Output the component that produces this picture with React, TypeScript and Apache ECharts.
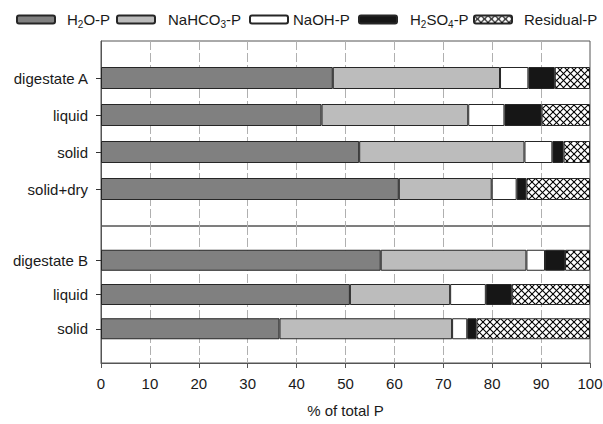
import React, { useEffect, useRef } from 'react';
import * as echarts from 'echarts';

// ---- data ----
const categoriesA = ['', 'digestate A', 'liquid', 'solid', 'solid+dry', ' '];
const categoriesB = ['', 'digestate B', 'liquid', 'solid', ' '];
const fractionNames = ['H2O-P', 'NaHCO3-P', 'NaOH-P', 'H2SO4-P', 'Residual-P'];

const h2oA = ['-', 47.4, 45.1, 52.8, 60.9, '-'];
const nahco3A = ['-', 34.2, 30.0, 33.8, 19.0, '-'];
const naohA = ['-', 5.8, 7.4, 5.7, 5.1, '-'];
const h2so4A = ['-', 5.4, 7.6, 2.3, 2.0, '-'];
const residualA = ['-', 7.2, 9.9, 5.4, 13.0, '-'];

const h2oB = ['-', 57.2, 50.9, 36.5, '-'];
const nahco3B = ['-', 29.8, 20.5, 35.3, '-'];
const naohB = ['-', 3.8, 7.3, 3.1, '-'];
const h2so4B = ['-', 4.1, 5.3, 1.9, '-'];
const residualB = ['-', 5.1, 16.0, 23.2, '-'];

const xTicks = [0, 100, 10]; // min, max, interval

const legendRich: Record<string, string> = {
  'H2O-P': '{n|H}{s|2}{n|O-P}',
  'NaHCO3-P': '{n|NaHCO}{s|3}{n|-P}',
  'NaOH-P': '{n|NaOH-P}',
  'H2SO4-P': '{n|H}{s|2}{n|SO}{s|4}{n|-P}',
  'Residual-P': '{n|Residual-P}',
};

const FONT = '"Liberation Sans", Arial, sans-serif';

function makeHatch() {
  const c = document.createElement('canvas');
  const s = 7;
  c.width = s;
  c.height = s;
  const ctx = c.getContext('2d')!;
  ctx.fillStyle = '#fff';
  ctx.fillRect(0, 0, s, s);
  ctx.strokeStyle = '#000';
  ctx.lineWidth = 1.1;
  for (const d of [-s, 0, s]) {
    ctx.beginPath();
    ctx.moveTo(d, 0);
    ctx.lineTo(d + s, s);
    ctx.stroke();
    ctx.beginPath();
    ctx.moveTo(d + s, 0);
    ctx.lineTo(d, s);
    ctx.stroke();
  }
  return c;
}

export default function App() {
  const ref = useRef<HTMLDivElement>(null);
  useEffect(() => {
    if (!ref.current) return;
    const chart = echarts.init(ref.current, null, { renderer: 'svg' });
    const hatch = makeHatch();
    const fills: any[] = [
      '#808080',
      '#bcbcbc',
      '#ffffff',
      '#161616',
      { image: hatch, repeat: 'repeat', imageWidth: 7, imageHeight: 7 },
    ];
    const dataA = [h2oA, nahco3A, naohA, h2so4A, residualA];
    const dataB = [h2oB, nahco3B, naohB, h2so4B, residualB];

    const series: any[] = [];
    fractionNames.forEach((name, i) => {
      const itemStyle = { color: fills[i], borderColor: '#262626', borderWidth: 1 };
      series.push({
        type: 'bar', name, xAxisIndex: 0, yAxisIndex: 0, stack: 'A',
        data: dataA[i], barWidth: 22, itemStyle,
      });
      series.push({
        type: 'bar', name, xAxisIndex: 1, yAxisIndex: 1, stack: 'B',
        data: dataB[i], barWidth: 21, itemStyle,
      });
    });

    const legendLefts = [16, 116, 249, 358, 473];
    const legendPads = [7, 8, 0, 8, 7];
    const legends = fractionNames.map((name, i) => ({
      show: true,
      orient: 'horizontal',
      data: [name],
      left: legendLefts[i],
      top: 12,
      padding: [0, 0, 0, 0],
      itemWidth: 38,
      itemHeight: 8,
      selectedMode: false,
      formatter: (n: string) => legendRich[n],
      textStyle: {
        padding: [0, 0, 0, legendPads[i]],
        rich: {
          n: { fontSize: 15, fontFamily: FONT, color: '#1a1a1a', lineHeight: 20, verticalAlign: 'middle' },
          s: { fontSize: 10, fontFamily: FONT, color: '#1a1a1a', lineHeight: 20, verticalAlign: 'bottom' },
        },
      },
    }));

    const xCommon = {
      type: 'value',
      min: xTicks[0],
      max: xTicks[1],
      interval: xTicks[2],
      splitLine: {
        show: true, showMinLine: false, showMaxLine: false,
        lineStyle: { color: '#b0b0b0', type: [9, 3], width: 1 },
      },
    };
    const yCommon = (cats: string[]) => ({
      type: 'category',
      data: cats,
      inverse: true,
      boundaryGap: false,
      axisLine: { show: true, lineStyle: { color: '#555', width: 1 } },
      axisTick: {
        show: true, inside: false, length: 5,
        interval: (_i: number, v: string) => v.trim() !== '',
        lineStyle: { color: '#333' },
      },
      axisLabel: { fontSize: 15, fontFamily: FONT, color: '#1a1a1a', margin: 13 },
      splitLine: { show: false },
    });

    chart.setOption({
      animation: false,
      backgroundColor: '#fff',
      legend: legends,
      grid: [
        { left: 101, top: 41, width: 489, height: 185, show: true, borderColor: '#555', borderWidth: 1, backgroundColor: 'transparent', outerBoundsMode: 'none', containLabel: false },
        { left: 101, top: 226, width: 489, height: 137, show: true, borderColor: '#555', borderWidth: 1, backgroundColor: 'transparent', outerBoundsMode: 'none', containLabel: false },
      ],
      xAxis: [
        {
          ...xCommon, gridIndex: 0,
          axisLine: { show: false }, axisTick: { show: false }, axisLabel: { show: false },
        },
        {
          ...xCommon, gridIndex: 1,
          axisLine: { show: true, lineStyle: { color: '#555', width: 1 } },
          axisTick: { show: true, inside: false, length: 5, lineStyle: { color: '#555' } },
          axisLabel: { fontSize: 15, fontFamily: FONT, color: '#1a1a1a', margin: 13 },
          name: '% of total P',
          nameLocation: 'middle',
          nameGap: 40,
          nameTextStyle: { fontSize: 15, fontFamily: FONT, color: '#1a1a1a' },
        },
      ],
      yAxis: [
        { ...yCommon(categoriesA), gridIndex: 0 },
        { ...yCommon(categoriesB), gridIndex: 1 },
      ],
      series,
    });
    return () => chart.dispose();
  }, []);
  return (
    <div
      ref={ref}
      style={{ position: 'absolute', left: 0, top: 0, width: 603, height: 424 }}
    />
  );
}
